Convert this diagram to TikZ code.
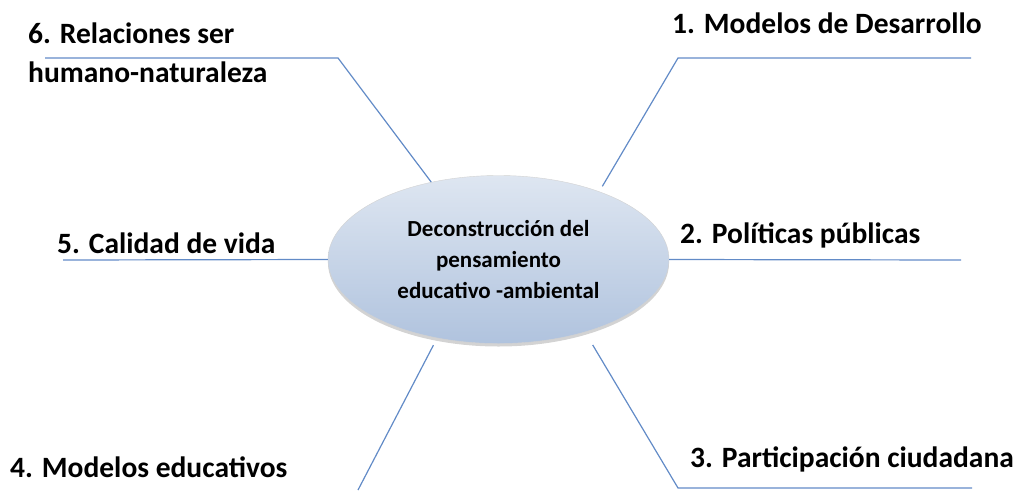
\documentclass[tikz,border=0pt]{standalone}
\usepackage{fontspec}
\setmainfont{Carlito}
\usepackage{tikz}
\usetikzlibrary{shapes, shadows, calc}
\definecolor{linea}{RGB}{98,139,199}
\definecolor{elltop}{RGB}{222,230,241}
\definecolor{ellmid}{RGB}{198,212,233}
\definecolor{ellbot}{RGB}{176,195,222}
\tikzset{
   myell/.style={ellipse, draw=gray!35, top color=elltop, middle color=ellmid, bottom color=ellbot, minimum width=341pt, minimum height=168pt, drop shadow={opacity=.35, shadow xshift=0pt, shadow yshift=-3pt}},
   mylabel/.style={anchor=base west, inner sep=0pt, align=left, font=\fontsize{29.5}{39}\selectfont\bfseries},
   myline/.style={draw=linea, line width=1.2pt}
}

\begin{document}
\begin{tikzpicture}[x=1pt,y=-1pt]
      \useasboundingbox (0,0) rectangle (1016,490);
      \node[myell, align=center, font=\fontsize{23}{31}\selectfont\bfseries] (centro) at (498.5,259.5) {Deconstrucción del\\pensamiento\\educativo -ambiental};
      % labels
      \node[mylabel] (t1) at (672,33) {1. Modelos de Desarrollo};
      \node[mylabel] (t2) at (680,243) {2. Políticas públicas};
      \node[mylabel] (t3) at (690,467) {3. Participación ciudadana};
      \node[mylabel] (t4) at (10,477) {4. Modelos educativos};
      \node[mylabel] (t5) at (57,253) {5. Calidad de vida};
      \node[mylabel] (t6) at (28,82) {6. Relaciones ser\\humano-naturaleza};
      % bends and ends
      \coordinate (c1) at (678,58);  \coordinate (e1) at (971,58);
      \coordinate (e2) at (961,260);
      \coordinate (c3) at (678,488); \coordinate (e3) at (972,488);
      \coordinate (e4) at (358,490);
      \coordinate (e5) at (63,260);
      \coordinate (c6) at (338,58);  \coordinate (e6) at (45,58);
      \draw[myline, shorten <=6pt] (centro.34) -- (c1) -- (e1);
      \draw[myline] (centro.east) -- (e2);
      \draw[myline, shorten <=15pt] (centro.320.6) -- (c3) -- (e3);
      \draw[myline, shorten <=8pt] (centro.232.2) -- (e4);
      \draw[myline] (centro.west) -- (e5);
      \draw[myline] (centro.131) -- (c6) -- (e6);
      \end{tikzpicture}
\end{document}
